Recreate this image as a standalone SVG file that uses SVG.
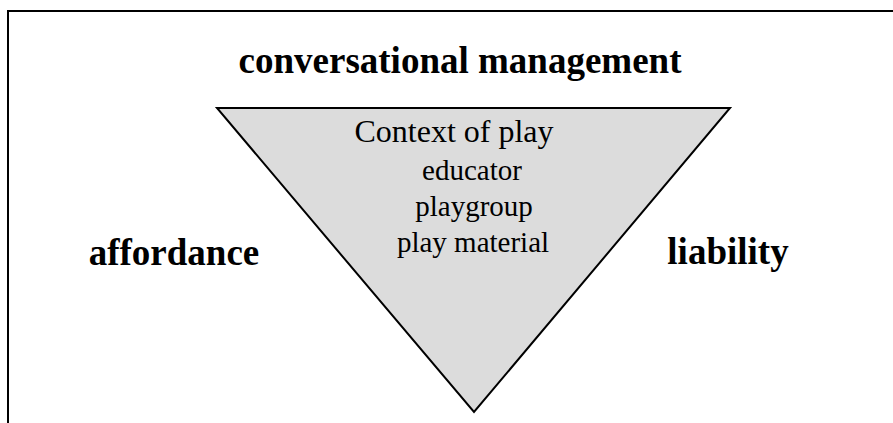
<svg xmlns="http://www.w3.org/2000/svg" width="893" height="423" viewBox="0 0 893 423">
<style>
.bold{font-family:"Liberation Serif","Times New Roman",serif;font-weight:bold;font-size:37px;fill:#000}
.reg{font-family:"Liberation Serif","Times New Roman",serif;font-size:29px;fill:#000}
.frame{fill:none;stroke:#000;stroke-width:2}
</style>
<rect width="893" height="423" fill="#fff"/>
<g id="frame">
<path class="frame" d="M8,430 V11 H900"/>
</g>
<g id="triangle">
<polygon points="217,108 730,108 474,412" fill="#dcdcdc" stroke="#000" stroke-width="2" stroke-linejoin="miter"/>
<text class="reg" x="454" y="142" text-anchor="middle" style="font-size:32px">Context of play</text>
<text class="reg" x="472" y="180" text-anchor="middle">educator</text>
<text class="reg" x="474" y="216" text-anchor="middle">playgroup</text>
<text class="reg" x="473" y="252" text-anchor="middle">play material</text>
</g>
<g id="top-label">
<text class="bold" x="460" y="73" text-anchor="middle">conversational management</text>
</g>
<g id="left-label">
<text class="bold" x="174" y="265" text-anchor="middle">affordance</text>
</g>
<g id="right-label">
<text class="bold" x="728" y="264" text-anchor="middle">liability</text>
</g>
</svg>
